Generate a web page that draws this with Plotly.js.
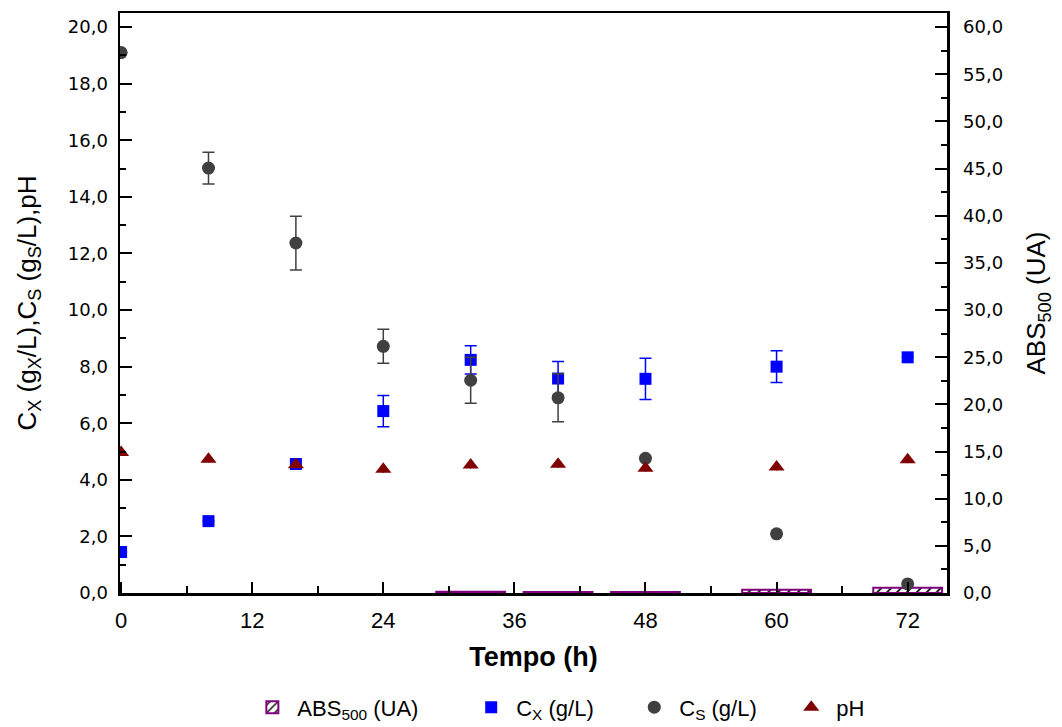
<!DOCTYPE html>
<html>
<head>
<meta charset="utf-8">
<script src="https://cdn.plot.ly/plotly-3.0.1.min.js"></script>
<style>html,body{margin:0;padding:0;background:#fff;}#chart{width:1062px;height:727px;}</style>
</head>
<body>
<div id="chart"></div>
<script>
// Time (h)
const tempo = [0, 8, 16, 24, 32, 40, 48, 60, 72];
// Cx (g/L) biomass
const cx = [1.45, 2.54, 4.56, 6.43, 8.24, 7.58, 7.57, 8.0, 8.33];
const cxErr = [0, 0, 0.1, 0.55, 0.5, 0.6, 0.73, 0.56, 0];
// Cs (g/L) substrate
const cs = [19.1, 15.02, 12.37, 8.72, 7.52, 6.9, 4.76, 2.09, 0.32];
const csErr = [0, 0.56, 0.95, 0.6, 0.81, 0.85, 0, 0, 0];
// pH
const ph = [4.97, 4.73, 4.53, 4.37, 4.52, 4.55, 4.41, 4.45, 4.71];
const phErr = [0.12, 0.12, 0.12, 0.12, 0.12, 0.12, 0.12, 0.12, 0.12];
// ABS500 (UA)
const absTempo = [32, 40, 48, 60, 72];
const abs500 = [0.12, 0.1, 0.1, 0.35, 0.55];

const tickVals = [0, 12, 24, 36, 48, 60, 72];

const pad = n => '\u00A0'.repeat(n);

const traces = [
  {
    type: 'bar', x: absTempo, y: abs500, yaxis: 'y', xaxis: 'x',
    name: 'ABS<sub>500</sub> (UA)' + pad(7), width: 6.3,
    marker: {
      color: '#ffffff',
      line: {color: '#800080', width: 2},
      pattern: {shape: '/', fgcolor: '#000000', bgcolor: '#ffffff', size: 7, solidity: 0.25}
    }
  },
  {
    type: 'scatter', mode: 'markers', x: tempo, y: cx, yaxis: 'y2',
    name: 'C<sub>X</sub> (g/L)' + pad(5),
    marker: {symbol: 'square', size: 12, color: '#0000ff'},
    error_y: {type: 'data', array: cxErr, visible: true, color: '#0000ff', thickness: 1.5, width: 6}
  },
  {
    type: 'scatter', mode: 'markers', x: tempo, y: cs, yaxis: 'y2',
    name: 'C<sub>S</sub> (g/L)' + pad(4),
    marker: {symbol: 'circle', size: 13, color: '#404040'},
    error_y: {type: 'data', array: csErr, visible: true, color: '#404040', thickness: 1.5, width: 6}
  },
  {
    type: 'scatter', mode: 'markers', x: tempo, y: ph, yaxis: 'y2',
    name: 'pH',
    marker: {symbol: 'triangle-up', size: 14, color: '#800000'},
    error_y: {type: 'data', array: phErr, visible: true, color: '#800000', thickness: 1.5, width: 0}
  }
];

const layout = {
  width: 1062, height: 727,
  paper_bgcolor: '#ffffff', plot_bgcolor: '#ffffff',
  separators: ',.',
  margin: {l: 120, r: 115, t: 13, b: 134, autoexpand: false},
  font: {family: 'Liberation Sans, Arial, sans-serif', color: '#000'},
  showlegend: true,
  legend: {
    orientation: 'h', x: 0.154, xanchor: 'left', y: -0.161, yanchor: 'top',
    font: {size: 22, family: 'Liberation Sans, Arial, sans-serif'},
    itemwidth: 40, traceorder: 'normal'
  },
  xaxis: {
    range: [-0.1, 75.6], tickvals: tickVals, ticktext: tickVals.map(String),
    ticks: 'inside', ticklen: 11, tickwidth: 2, tickcolor: '#000',
    minor: {dtick: 6, tick0: 0, ticks: 'inside', ticklen: 7, tickwidth: 2, tickcolor: '#000'},
    showline: true, linewidth: 2.5, linecolor: '#000', mirror: true,
    showgrid: false, zeroline: false, automargin: false,
    ticklabelstandoff: 6,
    tickfont: {size: 22, family: 'Liberation Sans, Arial, sans-serif'},
    title: {text: '<b>Tempo (h)</b>', font: {size: 27}, standoff: 15}
  },
  yaxis: {
    side: 'right', range: [0, 61.5], dtick: 5, tick0: 0, tickformat: '.1f',
    ticks: 'inside', ticklen: 12, tickwidth: 2, tickcolor: '#000',
    minor: {dtick: 2.5, tick0: 0, ticks: 'inside', ticklen: 6, tickwidth: 2, tickcolor: '#000'},
    showline: true, linewidth: 2.5, linecolor: '#000',
    showgrid: false, zeroline: false, automargin: false,
    ticklabelstandoff: 10,
    tickfont: {size: 18, family: 'DejaVu Sans, Verdana, sans-serif'},
    title: {text: 'ABS<sub>500</sub> (UA)', font: {size: 26}, standoff: 25}
  },
  yaxis2: {
    side: 'left', overlaying: 'y', range: [0, 20.5], dtick: 2, tick0: 0, tickformat: '.1f',
    ticks: 'inside', ticklen: 12, tickwidth: 2, tickcolor: '#000',
    minor: {dtick: 1, tick0: 0, ticks: 'inside', ticklen: 6, tickwidth: 2, tickcolor: '#000'},
    showline: true, linewidth: 2.5, linecolor: '#000',
    showgrid: false, zeroline: false, automargin: false,
    ticklabelstandoff: 6,
    tickfont: {size: 18, family: 'DejaVu Sans, Verdana, sans-serif'},
    title: {text: 'C<sub>X</sub> (g<sub>X</sub>/L),C<sub>S</sub> (g<sub>S</sub>/L),pH', font: {size: 26}, standoff: 24}
  }
};

Plotly.newPlot('chart', traces, layout, {displayModeBar: false, staticPlot: true});
</script>
</body>
</html>
